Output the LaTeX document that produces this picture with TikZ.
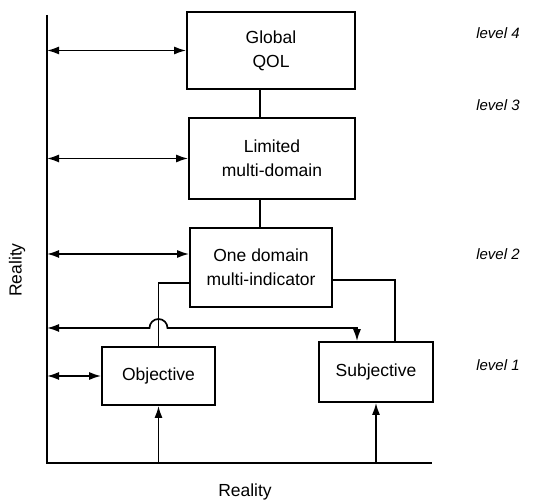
\documentclass[tikz,border=0pt]{standalone}
\usepackage{fontspec}
\setmainfont{Liberation Sans}
\usetikzlibrary{arrows.meta}
\begin{document}
\begin{tikzpicture}[x=1pt,y=1pt,
  line width=1.7pt,
  boxnode/.style={draw,line width=1.7pt,align=center,inner sep=0pt,
     font=\fontsize{17.5}{24}\selectfont},
  lbl/.style={font=\fontsize{17.5}{24}\selectfont},
  lvl/.style={font=\fontsize{15}{18}\selectfont\itshape},
  arr/.style={-{Latex[length=12pt,width=8pt]}},
  darr/.style={{Latex[length=12pt,width=8pt]}-{Latex[length=12pt,width=8pt]}}]
\useasboundingbox (0,0) rectangle (539,502);
% boxes
\node[boxnode,minimum width=168pt,minimum height=77pt] (glob) at (271,451.5) {Global\\QOL};
\node[boxnode,minimum width=166pt,minimum height=81pt] (lim) at (272,343.5) {Limited\\multi-domain};
\node[boxnode,minimum width=142pt,minimum height=79pt] (one) at (261,234.5) {One domain\\multi-indicator};
\node[boxnode,minimum width=113pt,minimum height=58pt] (obj) at (158.5,126) {Objective};
\node[boxnode,minimum width=114pt,minimum height=60pt] (subj) at (376,130) {Subjective};
% reality axes
\coordinate (rtop) at (47,487);
\coordinate (rbot) at (47,39);
\coordinate (rend) at (432,39);
\draw (rtop) -- (rbot) -- (rend);
\node[lbl] (rx) at (245,10) {Reality};
\node[lbl,rotate=90] (ry) at (17,232) {Reality};
% level labels
\node[lvl] (l4) at (498,469) {level 4};
\node[lvl] (l3) at (498,397) {level 3};
\node[lvl] (l2) at (498,248) {level 2};
\node[lvl] (l1) at (498,137) {level 1};
% vertical links
\coordinate (c1) at (260,0);
\draw (glob.south -| c1) -- (lim.north -| c1);
\draw (lim.south -| c1) -- (one.north -| c1);
% branches
\coordinate (lb) at (158.5,219);
\coordinate (rb) at (395,222);
\draw (one.west |- lb) -| (obj.north);
\draw (one.east |- rb) -| (subj.north -| rb);
% level arrows
\coordinate (a2) at (0,248);
\draw[darr] (rtop |- glob.west) -- (glob.west);
\draw[darr] (rtop |- lim.west) -- (lim.west);
\draw[darr] (rtop |- a2) -- (one.west |- a2);
\draw[darr] (rtop |- obj.west) -- (obj.west);
% hop arrow
\coordinate (hl) at (149.5,174);
\coordinate (hr) at (357,174);
\draw[darr] (rtop |- hl) -- (hl) arc[start angle=180,end angle=0,radius=9] -- (hr) -- (subj.north -| hr);
% arrows from reality
\draw[arr] (rbot -| obj.south) -- (obj.south);
\draw[arr] (rbot -| subj.south) -- (subj.south);
\end{tikzpicture}
\end{document}
